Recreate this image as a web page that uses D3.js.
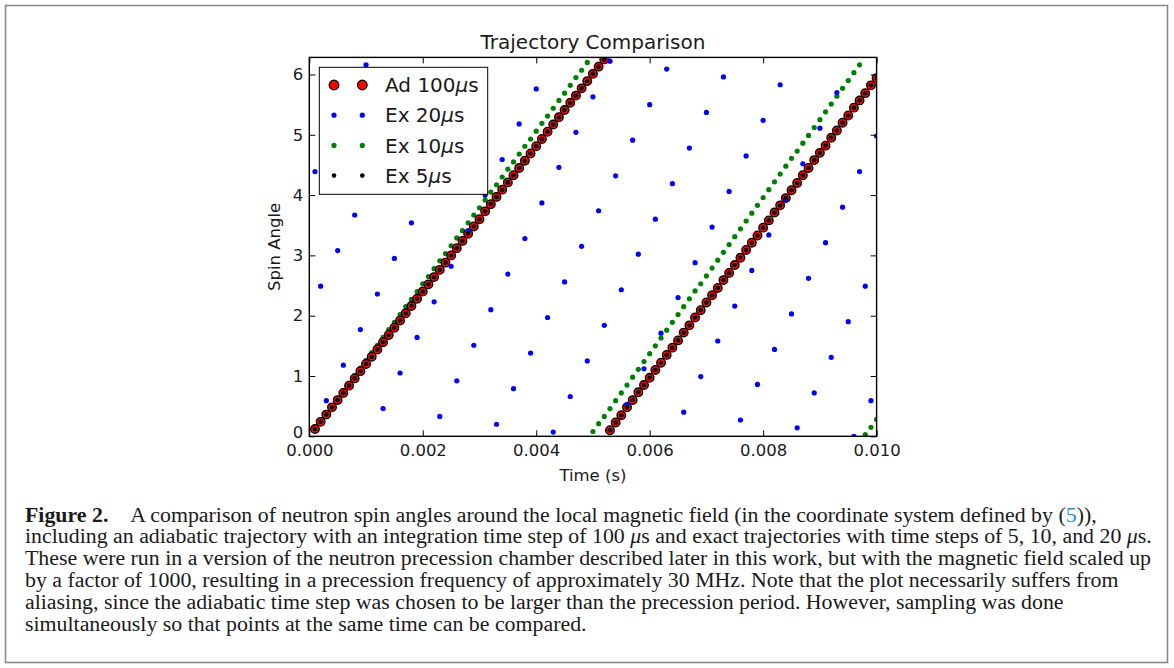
<!DOCTYPE html>
<html>
<head>
<meta charset="utf-8">
<script src="https://cdn.jsdelivr.net/npm/d3@7"></script>
<style>
  body { margin: 0; background: #fff; }
  svg { display: block; }
</style>
</head>
<body>
<svg width="1174" height="668"></svg>
<script>
/*----------- Donnees -----------*/
// temps d'echantillonnage (microsecondes), un point tous les 100 us
const timeUs = [
  100, 200, 300, 400, 500, 600, 700, 800, 900, 1000,
  1100, 1200, 1300, 1400, 1500, 1600, 1700, 1800, 1900, 2000,
  2100, 2200, 2300, 2400, 2500, 2600, 2700, 2800, 2900, 3000,
  3100, 3200, 3300, 3400, 3500, 3600, 3700, 3800, 3900, 4000,
  4100, 4200, 4300, 4400, 4500, 4600, 4700, 4800, 4900, 5000,
  5100, 5200, 5300, 5400, 5500, 5600, 5700, 5800, 5900, 6000,
  6100, 6200, 6300, 6400, 6500, 6600, 6700, 6800, 6900, 7000,
  7100, 7200, 7300, 7400, 7500, 7600, 7700, 7800, 7900, 8000,
  8100, 8200, 8300, 8400, 8500, 8600, 8700, 8800, 8900, 9000,
  9100, 9200, 9300, 9400, 9500, 9600, 9700, 9800, 9900, 10000
];

// Ad 100us (rouge)
const ad100 = [
  0.12, 0.24, 0.36, 0.48, 0.60, 0.72, 0.84, 0.96, 1.08, 1.20,
  1.32, 1.44, 1.56, 1.68, 1.80, 1.92, 2.04, 2.16, 2.28, 2.40,
  2.52, 2.64, 2.76, 2.88, 3.00, 3.12, 3.24, 3.36, 3.48, 3.60,
  3.73, 3.85, 3.97, 4.09, 4.21, 4.33, 4.45, 4.57, 4.69, 4.81,
  4.93, 5.05, 5.17, 5.29, 5.41, 5.53, 5.65, 5.77, 5.89, 6.01,
  6.13, 6.25, 0.10, 0.23, 0.35, 0.48, 0.60, 0.73, 0.85, 0.97,
  1.10, 1.22, 1.35, 1.47, 1.59, 1.72, 1.84, 1.97, 2.09, 2.22,
  2.34, 2.46, 2.59, 2.71, 2.84, 2.96, 3.09, 3.21, 3.33, 3.46,
  3.58, 3.71, 3.83, 3.95, 4.08, 4.20, 4.33, 4.45, 4.58, 4.70,
  4.82, 4.95, 5.07, 5.20, 5.32, 5.45, 5.57, 5.69, 5.82, 5.94
];

// Ex 20us (bleu)
const ex20 = [
  4.39, 2.49, 0.59, 4.98, 3.08, 1.18, 5.57, 3.67, 1.77, 6.16,
  4.26, 2.36, 0.46, 4.85, 2.95, 1.05, 5.44, 3.54, 1.64, 6.03,
  4.13, 2.23, 0.33, 4.72, 2.82, 0.92, 5.31, 3.41, 1.51, 5.90,
  4.00, 2.10, 0.20, 4.59, 2.69, 0.79, 5.18, 3.28, 1.38, 5.76,
  3.87, 1.97, 0.07, 4.46, 2.56, 0.66, 5.04, 3.15, 1.25, 5.63,
  3.74, 1.84, 6.22, 4.32, 2.43, 0.53, 4.91, 3.02, 1.12, 5.50,
  3.60, 1.71, 6.09, 4.19, 2.30, 0.40, 4.78, 2.88, 0.99, 5.37,
  3.47, 1.58, 5.96, 4.06, 2.16, 0.27, 4.65, 2.75, 0.86, 5.24,
  3.34, 1.44, 5.83, 3.93, 2.03, 0.14, 4.52, 2.62, 0.72, 5.11,
  3.21, 1.31, 5.70, 3.80, 1.90, 0.00, 4.39, 2.49, 0.59, 4.98
];

// Ex 10us (vert)
const ex10 = [
  0.12, 0.25, 0.37, 0.50, 0.63, 0.75, 0.88, 1.01, 1.13, 1.26,
  1.39, 1.51, 1.64, 1.77, 1.89, 2.02, 2.15, 2.27, 2.40, 2.53,
  2.65, 2.78, 2.91, 3.03, 3.16, 3.29, 3.41, 3.54, 3.67, 3.79,
  3.92, 4.05, 4.17, 4.30, 4.43, 4.55, 4.68, 4.81, 4.93, 5.06,
  5.19, 5.31, 5.44, 5.57, 5.69, 5.82, 5.95, 6.07, 6.20, 0.08,
  0.21, 0.33, 0.46, 0.59, 0.72, 0.85, 0.98, 1.11, 1.24, 1.37,
  1.50, 1.63, 1.76, 1.89, 2.02, 2.15, 2.28, 2.41, 2.53, 2.66,
  2.79, 2.92, 3.05, 3.18, 3.31, 3.44, 3.57, 3.70, 3.83, 3.96,
  4.09, 4.22, 4.35, 4.48, 4.61, 4.73, 4.86, 4.99, 5.12, 5.25,
  5.38, 5.51, 5.64, 5.77, 5.90, 6.03, 6.16, 0.03, 0.15, 0.28
];

// Ex 5us (noir), confondu avec la trajectoire adiabatique
const ex5 = [
  0.12, 0.24, 0.36, 0.48, 0.60, 0.72, 0.84, 0.96, 1.08, 1.20,
  1.32, 1.44, 1.56, 1.68, 1.80, 1.92, 2.04, 2.16, 2.28, 2.40,
  2.52, 2.64, 2.76, 2.88, 3.00, 3.12, 3.24, 3.36, 3.48, 3.60,
  3.73, 3.85, 3.97, 4.09, 4.21, 4.33, 4.45, 4.57, 4.69, 4.81,
  4.93, 5.05, 5.17, 5.29, 5.41, 5.53, 5.65, 5.77, 5.89, 6.01,
  6.13, 6.25, 0.10, 0.23, 0.35, 0.48, 0.60, 0.73, 0.85, 0.97,
  1.10, 1.22, 1.35, 1.47, 1.59, 1.72, 1.84, 1.97, 2.09, 2.22,
  2.34, 2.46, 2.59, 2.71, 2.84, 2.96, 3.09, 3.21, 3.33, 3.46,
  3.58, 3.71, 3.83, 3.95, 4.08, 4.20, 4.33, 4.45, 4.58, 4.70,
  4.82, 4.95, 5.07, 5.20, 5.32, 5.45, 5.57, 5.69, 5.82, 5.94
];

const xTicks = [0, 0.002, 0.004, 0.006, 0.008, 0.010];
const yTicks = [0, 1, 2, 3, 4, 5, 6];
const legendLabels = ["Ad 100", "Ex 20", "Ex 10", "Ex 5"];

const captionLines = [
  [["b", "Figure 2."], ["n", "\u2003A comparison of neutron spin angles around the local magnetic field (in the coordinate system defined by ("], ["l", "5"], ["n", ")),"]],
  [["n", "including an adiabatic trajectory with an integration time step of 100 "], ["i", "\u03bc"], ["n", "s and exact trajectories with time steps of 5, 10, and 20 "], ["i", "\u03bc"], ["n", "s."]],
  [["n", "These were run in a version of the neutron precession chamber described later in this work, but with the magnetic field scaled up"]],
  [["n", "by a factor of 1000, resulting in a precession frequency of approximately 30 MHz. Note that the plot necessarily suffers from"]],
  [["n", "aliasing, since the adiabatic time step was chosen to be larger than the precession period. However, sampling was done"]],
  [["n", "simultaneously so that points at the same time can be compared."]]
];

/*----------- Dimensions -----------*/
const plot = { left: 309.3, right: 876.6, top: 57.4, bottom: 436.3 };
const font = "'DejaVu Sans', sans-serif";

const svg = d3.select("svg");
svg.append("rect").attr("width", 1174).attr("height", 668).attr("fill", "#fff");
svg.append("rect")
  .attr("x", 5.5).attr("y", 5.5)
  .attr("width", 1162).attr("height", 657)
  .attr("fill", "none").attr("stroke", "#8a8a8a").attr("stroke-width", 1.6);

/*----------- Echelles -----------*/
const x = d3.scaleLinear().domain([0, 0.01]).range([plot.left, plot.right]);
const y = d3.scaleLinear().domain([0, 2 * Math.PI]).range([plot.bottom, plot.top]);

svg.append("defs").append("clipPath").attr("id", "clip")
  .append("rect")
  .attr("x", plot.left).attr("y", plot.top)
  .attr("width", plot.right - plot.left).attr("height", plot.bottom - plot.top);

const pts = (vals) => vals.map((v, i) => ({ t: timeUs[i] * 1e-6, v: v }));

const series = [
  { name: "ex10", data: pts(ex10), r: 2.6, fill: "#008000", stroke: "none", sw: 0 },
  { name: "ad100", data: pts(ad100), r: 4.3, fill: "#ff0000", stroke: "#000", sw: 1.3 },
  { name: "ex20", data: pts(ex20), r: 2.6, fill: "#0000ff", stroke: "none", sw: 0 },
  { name: "ex5", data: pts(ex5), r: 2.3, fill: "#000", stroke: "none", sw: 0 }
];

const marks = svg.append("g").attr("clip-path", "url(#clip)");
series.forEach((s) => {
  marks.append("g")
    .selectAll("circle")
    .data(s.data)
    .enter()
    .append("circle")
    .attr("cx", (d) => x(d.t))
    .attr("cy", (d) => y(d.v))
    .attr("r", s.r)
    .attr("fill", s.fill)
    .attr("stroke", s.stroke)
    .attr("stroke-width", s.sw);
});

/*----------- Axes -----------*/
const tickLen = 6;
const xAxis = d3.axisBottom(x).tickValues(xTicks).tickFormat(d3.format(".3f"))
  .tickSizeInner(-tickLen).tickSizeOuter(0).tickPadding(7.5);
const yAxis = d3.axisLeft(y).tickValues(yTicks).tickFormat(d3.format("d"))
  .tickSizeInner(-tickLen).tickSizeOuter(0).tickPadding(6);

const gx = svg.append("g").attr("transform", "translate(0," + plot.bottom + ")").call(xAxis);
const gy = svg.append("g").attr("transform", "translate(" + plot.left + ",0)").call(yAxis);
const gxTop = svg.append("g").attr("transform", "translate(0," + plot.top + ")")
  .call(d3.axisTop(x).tickValues(xTicks).tickFormat("").tickSizeInner(-tickLen).tickSizeOuter(0));
const gyRight = svg.append("g").attr("transform", "translate(" + plot.right + ",0)")
  .call(d3.axisRight(y).tickValues(yTicks).tickFormat("").tickSizeInner(-tickLen).tickSizeOuter(0));

[gx, gy, gxTop, gyRight].forEach((g) => {
  g.select(".domain").remove();
  g.selectAll("line").attr("stroke", "#000").attr("stroke-width", 1);
  g.selectAll("text").attr("fill", "#1a1a1a").style("font-family", font).style("font-size", "16.5px");
});
// le "0" de l'axe y remonte un peu, comme sur la figure, pour ne pas toucher "0.000"
gy.selectAll(".tick text").filter((d) => d === 0).attr("dy", "0.1em");

// cadre du graphe
svg.append("rect")
  .attr("x", plot.left).attr("y", plot.top)
  .attr("width", plot.right - plot.left).attr("height", plot.bottom - plot.top)
  .attr("fill", "none").attr("stroke", "#000").attr("stroke-width", 1.4);

/*----------- Titres -----------*/
svg.append("text")
  .attr("x", (plot.left + plot.right) / 2).attr("y", 48.5)
  .attr("text-anchor", "middle")
  .style("font-family", font).style("font-size", "20px").attr("fill", "#1a1a1a")
  .text("Trajectory Comparison");

svg.append("text")
  .attr("x", (plot.left + plot.right) / 2).attr("y", 481)
  .attr("text-anchor", "middle")
  .style("font-family", font).style("font-size", "16.5px").attr("fill", "#1a1a1a")
  .text("Time (s)");

svg.append("text")
  .attr("transform", "translate(280," + (plot.top + plot.bottom) / 2 + ") rotate(-90)")
  .attr("text-anchor", "middle")
  .style("font-family", font).style("font-size", "16.5px").attr("fill", "#1a1a1a")
  .text("Spin Angle");

/*----------- Legende -----------*/
const legend = svg.append("g");
legend.append("rect")
  .attr("x", 319.3).attr("y", 67.3).attr("width", 168.4).attr("height", 127)
  .attr("fill", "#fff").attr("stroke", "#000").attr("stroke-width", 1);

const legendOrder = [series[1], series[2], series[0], series[3]];
legendOrder.forEach((s, i) => {
  const cy = 85 + i * 30.2;
  [334, 362.3].forEach((cx) => {
    legend.append("circle")
      .attr("cx", cx).attr("cy", cy)
      .attr("r", s.name === "ad100" ? 4.8 : s.r)
      .attr("fill", s.fill).attr("stroke", s.stroke).attr("stroke-width", s.sw);
  });
  const t = legend.append("text")
    .attr("x", 385).attr("y", cy + 7.2)
    .style("font-family", font).style("font-size", "20px").attr("fill", "#1a1a1a");
  t.append("tspan").text(legendLabels[i]);
  t.append("tspan").style("font-style", "italic").text("\u03bc");
  t.append("tspan").text("s");
});

/*----------- Legende de la figure -----------*/
const capFont = "'Liberation Serif', 'DejaVu Serif', serif";
const cap = svg.append("g").style("font-family", capFont).attr("fill", "#1a1a1a");
const capTexts = captionLines.map((parts, i) => {
  const t = cap.append("text").attr("x", 25).attr("y", 521.5 + i * 21.8).style("font-size", "18px");
  parts.forEach((p) => {
    const ts = t.append("tspan").text(p[1]);
    if (p[0] === "b") ts.style("font-weight", "bold");
    if (p[0] === "i") ts.style("font-style", "italic");
    if (p[0] === "l") ts.attr("fill", "#1f8fd6");
  });
  return t;
});
// on ajuste la taille pour retrouver la largeur de la 3e ligne (x 25 -> 1152)
const w3 = capTexts[2].node().getComputedTextLength();
const capSize = 18 * (1152 - 25) / w3;
capTexts.forEach((t) => t.style("font-size", capSize + "px"));
</script>
</body>
</html>
